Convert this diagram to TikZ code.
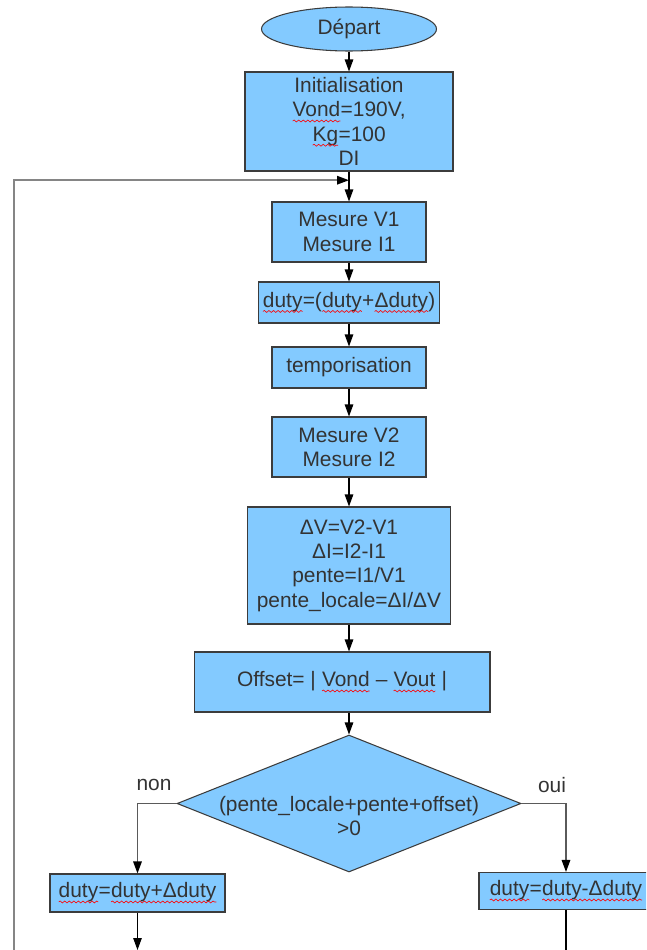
\documentclass[tikz,border=0pt]{standalone}
\usepackage{fontspec}
\setmainfont{Liberation Sans}
\usetikzlibrary{calc}
\usetikzlibrary{shapes.geometric}
\usetikzlibrary{arrows.meta}
\usetikzlibrary{decorations.pathmorphing}

\definecolor{boxblue}{HTML}{83CAFF}
\definecolor{edgegray}{HTML}{3C3C3C}
\definecolor{txtgray}{HTML}{333333}
\definecolor{loopgray}{HTML}{858585}
\definecolor{branchgray}{HTML}{5A5A5A}

\newcommand\spell[1]{\tikz[baseline=(word.base)]{\node[rectangle, draw=none, fill=none, inner sep=0pt, outer sep=0pt,
    minimum width=0pt, minimum height=0pt, anchor=center] (word) {#1};
  \draw[red, line width=0.35pt, decorate, decoration={snake, amplitude=0.55pt, segment length=2.6pt}]
    ([yshift=-2.3pt]word.base west) -- ([yshift=-2.3pt]word.base east);}}

\begin{document}
\begin{tikzpicture}[x=0.02cm, y=-0.02cm,
  font=\fontsize{11.9}{13.8}\selectfont,
  box/.style={draw=edgegray, line width=0.6pt, fill=boxblue, text=txtgray, align=center, inner sep=0pt},
  startbox/.style={box, ellipse},
  testbox/.style={box, diamond},
  flow/.style={-{Triangle[length=2.4mm, width=1.7mm, black]}, line width=0.6pt},
  back/.style={flow, loopgray, line width=0.9pt},
  branch/.style={flow, branchgray, line width=0.8pt}]
\clip (0,0) rectangle (646,950);

\node[startbox, minimum width=3.5cm, minimum height=0.88cm, text depth=0.1cm] (start) at (349,29) {Départ};
\node[box, minimum width=4.16cm, minimum height=1.98cm] (init) at (349,121.5)
  {Initialisation\\\spell{Vond}=190V,\\\spell{Kg}=100\\DI};
\node[box, minimum width=3.08cm, minimum height=1.2cm] (mes1) at (349,232) {Mesure V1\\Mesure I1};
\node[box, minimum width=3.62cm, minimum height=0.82cm] (incr) at (349,302.5)
  {\spell{duty}=(\spell{duty}+\spell{Δduty})};
\node[box, minimum width=3.08cm, minimum height=0.82cm] (tempo) at (349,367.5) {temporisation};
\node[box, minimum width=3.08cm, minimum height=1.2cm] (mes2) at (349,447) {Mesure V2\\Mesure I2};
\node[box, minimum width=4.06cm, minimum height=2.34cm] (calc) at (349,565.5)
  {ΔV=V2-V1\\ΔI=I2-I1\\pente=I1/V1\\pente\_locale=ΔI/ΔV};
\node[box, minimum width=5.92cm, minimum height=1.2cm] (offset) at (342,682)
  {Offset= | \spell{Vond} – \spell{Vout} |};
\node[testbox, minimum width=6.88cm, minimum height=2.74cm,
  label={[text=txtgray, align=center, yshift=-0.25cm]center:(pente\_locale+pente+offset)\\>0}] (test) at (349,803.5) {};
\node[box, minimum width=3.5cm, minimum height=0.76cm] (plus) at (137.5,893) {\spell{duty}=\spell{duty+Δduty}};
\node[box, minimum width=3.48cm, minimum height=0.74cm] (minus) at (566,891) {\spell{duty}=\spell{duty-Δduty}};

\node[text=txtgray] (non) at (154,785) {non};
\node[text=txtgray] (oui) at (552,785) {oui};

\coordinate (join) at ($(init.south)!0.29!(mes1.north)$);
\coordinate (bottom) at (14,950);

\draw[flow] (start) -- (init);
\draw[flow] (init) -- (mes1);
\draw[flow] (mes1) -- (incr);
\draw[flow] (incr) -- (tempo);
\draw[flow] (tempo) -- (mes2);
\draw[flow] (mes2) -- (calc);
\draw[flow] (calc) -- (calc |- offset.north);
\draw[flow] (offset.south -| test) -- (test);
\draw[back] (bottom) |- (join);
\draw[branch] (test.west) -| (plus);
\draw[branch] (test.east) -| (minus);
\draw[flow] (plus) -- (plus |- bottom);
\draw[line width=0.6pt] (minus) -- (minus |- bottom);
\end{tikzpicture}
\end{document}
